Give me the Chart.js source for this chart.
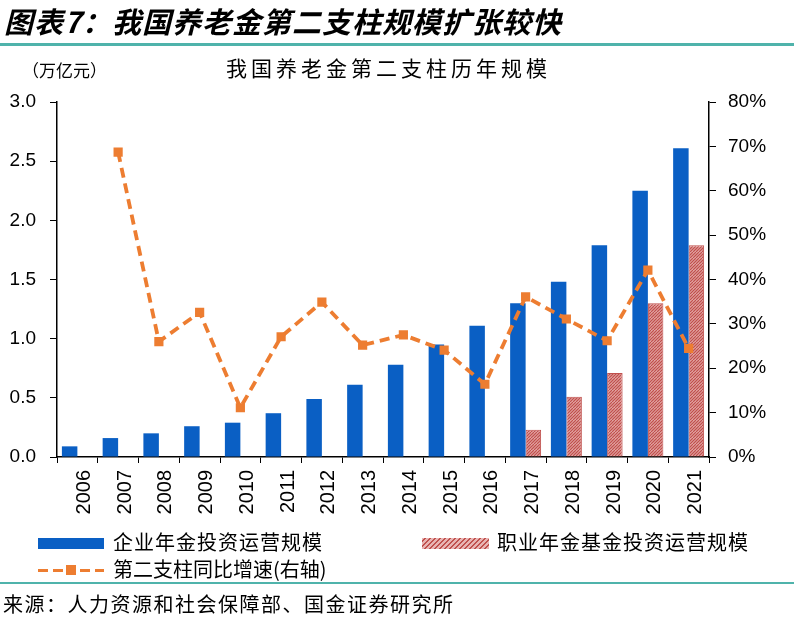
<!DOCTYPE html>
<html><head><meta charset="utf-8">
<script src="https://cdn.jsdelivr.net/npm/chart.js@4/dist/chart.umd.min.js"></script>
<style>
html,body{margin:0;padding:0;background:#fff;}
#wrap{position:relative;width:794px;height:620px;overflow:hidden;font-family:"Noto Sans CJK SC","Liberation Sans",sans-serif;}
#c{position:absolute;left:0;top:0;}
.t{position:absolute;white-space:nowrap;color:#000;line-height:1;}
.hl{position:absolute;left:0;width:794px;background:#4fb3ab;}
</style></head>
<body><div id="wrap">
<canvas id="c" width="794" height="620"></canvas>
<div class="t" style="left:4px;top:6px;font-size:29px;font-weight:bold;font-style:italic;letter-spacing:1px;">图表7：我国养老金第二支柱规模扩张较快</div>
<div class="hl" style="top:43px;height:3px;"></div>
<div class="t" style="left:226px;top:57px;font-size:21px;letter-spacing:4px;">我国养老金第二支柱历年规模</div>
<div class="t" style="left:22px;top:61px;font-size:17px;">（万亿元）</div>
<div style="position:absolute;left:38px;top:538px;width:66px;height:11px;background:#0a5fc4;"></div>
<div class="t" style="left:113px;top:532px;font-size:20px;letter-spacing:1px;">企业年金投资运营规模</div>
<div style="position:absolute;left:422px;top:538px;width:67px;height:11px;background:repeating-linear-gradient(135deg,#e8b4b3 0 2px,#c0504d 2px 3.5px);"></div>
<div class="t" style="left:497px;top:532px;font-size:20px;letter-spacing:1px;">职业年金基金投资运营规模</div>
<div style="position:absolute;left:38px;top:569px;width:10px;height:3px;background:#ed7d31;"></div>
<div style="position:absolute;left:53px;top:569px;width:10px;height:3px;background:#ed7d31;"></div>
<div style="position:absolute;left:66px;top:565px;width:10px;height:10px;background:#ed7d31;"></div>
<div style="position:absolute;left:80px;top:569px;width:10px;height:3px;background:#ed7d31;"></div>
<div style="position:absolute;left:95px;top:569px;width:9px;height:3px;background:#ed7d31;"></div>
<div class="t" style="left:113px;top:559px;font-size:20px;">第二支柱同比增速(右轴)</div>
<div class="hl" style="top:582px;height:2px;"></div>
<div class="t" style="left:3px;top:594px;font-size:20px;letter-spacing:1.5px;">来源：人力资源和社会保障部、国金证券研究所</div>
</div>
<script>
const categories = ["2006","2007","2008","2009","2010","2011","2012","2013","2014","2015","2016","2017","2018","2019","2020","2021"];
const enterpriseAnnuity = [0.09,0.16,0.20,0.26,0.29,0.37,0.49,0.61,0.78,0.95,1.11,1.30,1.48,1.79,2.25,2.61];
const occupationalAnnuity = [null,null,null,null,null,null,null,null,null,null,null,0.23,0.51,0.71,1.30,1.79];
const growthRate = [null,68.7,26.0,32.6,11.1,27.1,34.9,25.2,27.5,24.1,16.4,36.1,31.1,26.2,42.1,24.5];
const leftTicks = [0,0.5,1.0,1.5,2.0,2.5,3.0];
const rightTicks = [0,10,20,30,40,50,60,70,80];

function hatch(){
  const p=document.createElement('canvas');p.width=6;p.height=6;
  const g=p.getContext('2d');
  g.fillStyle='#ebb9b8';g.fillRect(0,0,6,6);
  g.strokeStyle='#c0504d';g.lineWidth=1.3;
  g.beginPath();
  for(let k=-6;k<=12;k+=3){g.moveTo(k,6);g.lineTo(k+6,0);}
  g.stroke();
  return g.createPattern(p,'repeat');
}
const ctx=document.getElementById('c').getContext('2d');
new Chart(ctx,{
  data:{labels:categories,datasets:[
    {type:'line',label:'第二支柱同比增速(右轴)',data:growthRate,yAxisID:'y1',order:0,
     borderColor:'#ed7d31',backgroundColor:'#ed7d31',borderWidth:3.8,borderDash:[10,6],
     pointStyle:'rect',pointRadius:6.5,pointBorderWidth:0,tension:0,spanGaps:false},
    {type:'bar',label:'企业年金投资运营规模',data:enterpriseAnnuity,yAxisID:'y',order:1,
     backgroundColor:'#0a5fc4',categoryPercentage:0.76,barPercentage:1.0},
    {type:'bar',label:'职业年金基金投资运营规模',data:occupationalAnnuity,yAxisID:'y',order:1,
     backgroundColor:hatch(),borderColor:'#c0504d',borderWidth:1,categoryPercentage:0.76,barPercentage:1.0}
  ]},
  options:{
    responsive:false,animation:false,
    layout:{padding:{top:102,left:0,right:0,bottom:0}},
    plugins:{legend:{display:false},tooltip:{enabled:false}},
    scales:{
      x:{offset:true,
         grid:{display:true,drawOnChartArea:false,offset:true,tickLength:6,color:'#000'},
         border:{display:true,color:'#000',width:1.5},
         ticks:{minRotation:90,maxRotation:90,padding:7,labelOffset:7,color:'#000',font:{family:'Liberation Sans',size:20}},
         afterFit(s){s.height=163;}},
      y:{position:'left',min:0,max:3,
         afterBuildTicks(s){s.ticks=leftTicks.map(v=>({value:v}));},
         grid:{drawOnChartArea:false,tickLength:7,color:'#000'},
         border:{display:true,color:'#000',width:1.5},
         ticks:{padding:14,color:'#000',font:{family:'Liberation Sans',size:19},callback:v=>v.toFixed(1)},
         afterFit(s){s.width=57;}},
      y1:{position:'right',min:0,max:80,
         afterBuildTicks(s){s.ticks=rightTicks.map(v=>({value:v}));},
         grid:{drawOnChartArea:false,tickLength:7,color:'#000'},
         border:{display:true,color:'#000',width:1.5},
         ticks:{padding:12,color:'#000',font:{family:'Liberation Sans',size:19},callback:v=>v+'%'},
         afterFit(s){s.width=85;}}
    }
  }
});
</script>
</body></html>
